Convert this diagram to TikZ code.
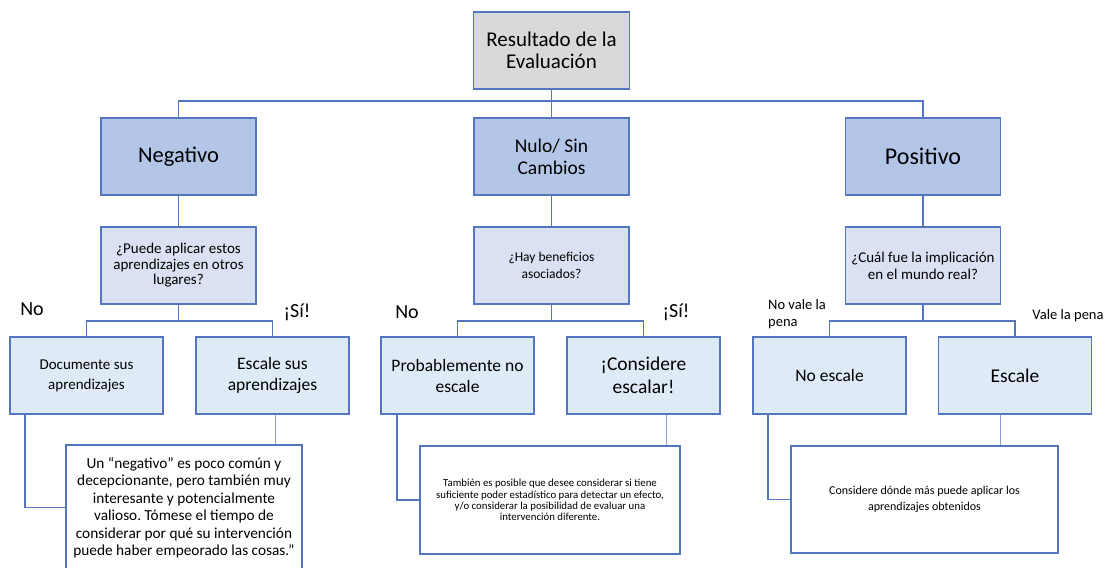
\documentclass[tikz,border=0pt]{standalone}
\usepackage{fontspec}
\setmainfont{Carlito}
\frenchspacing
\definecolor{framblue}{RGB}{84,118,193}
\definecolor{linkblue}{RGB}{135,160,212}
\definecolor{rootgray}{RGB}{217,217,217}
\definecolor{outcomeblue}{RGB}{180,198,231}
\definecolor{askblue}{RGB}{218,225,242}
\definecolor{actblue}{RGB}{222,235,247}

\newcommand{\fs}[2]{\fontsize{#1}{#2}\selectfont}

\begin{document}
\begin{tikzpicture}[x=1pt,y=-1pt,
    box/.style={draw=framblue, line width=1.3pt, align=center, inner sep=2pt, minimum height=77pt},
    rootbox/.style={box, fill=rootgray, minimum width=156pt},
    outbox/.style={box, fill=outcomeblue, minimum width=155pt},
    askbox/.style={box, fill=askblue, minimum width=155pt},
    actbox/.style={box, fill=actblue, minimum width=153pt},
    notebox/.style={draw=framblue, line width=1.3pt, fill=white, align=center},
    link/.style={draw=framblue, line width=1.3pt},
    thinlink/.style={draw=linkblue, line width=0.8pt},
    answer/.style={inner sep=0pt, font=\fs{20}{22}}]
    \useasboundingbox (0,0) rectangle (1112,568);
    \clip (0,0) rectangle (1112,568);
    \fill[white] (0,0) rectangle (1112,568);

    % top of the tree
    \node[rootbox, font=\fs{21}{22}] (res) at (551.5,50.5) {Resultado de la\\Evaluación};
    \node[outbox, font=\fs{22.5}{24}] (neg) at (178.5,156.5) {Negativo};
    \node[outbox, font=\fs{19.5}{22}] (nul) at (551.5,156.5) {Nulo/ Sin\\Cambios};
    \node[outbox, font=\fs{24}{26}] (pos) at (923,156.5) {Positivo};

    % questions
    \node[askbox, font=\fs{15}{15.5}] (qneg) at (178.5,265.5) {¿Puede aplicar estos\\aprendizajes en otros\\lugares?};
    \node[askbox, font=\fs{13.5}{17.5}] (qnul) at (551.5,265.5) {¿Hay beneficios\\asociados?};
    \node[askbox, font=\fs{15}{17}] (qpos) at (923,265.5) {¿Cuál fue la implicación\\en el mundo real?};

    % actions
    \node[actbox, font=\fs{15}{20}] (doc) at (86.5,375.5) {Documente sus\\aprendizajes};
    \node[actbox, font=\fs{17.5}{21}] (esc) at (272.5,375.5) {Escale sus\\aprendizajes};
    \node[actbox, font=\fs{17.5}{21}] (prob) at (457.5,375.5) {Probablemente no\\escale};
    \node[actbox, font=\fs{19.5}{22.5}] (cons) at (643.5,375.5) {¡Considere\\escalar!};
    \node[actbox, font=\fs{17.5}{21}] (noesc) at (829.5,375.5) {No escale};
    \node[actbox, font=\fs{19.5}{22}] (escale) at (1015,375.5) {Escale};

    % notes
    \node[notebox, minimum width=236pt, minimum height=125pt, font=\fs{15.3}{17.5}] (nneg) at (184,507.5)
        {Un “negativo” es poco común y\\decepcionante, pero también muy\\interesante y potencialmente\\valioso. Tómese el tiempo de\\considerar por qué su intervención\\puede haber empeorado las cosas.”};
    \node[notebox, minimum width=260pt, minimum height=108pt, font=\fs{10.8}{11.2}] (nnul) at (550,500)
        {También es posible que desee considerar si tiene\\suficiente poder estadístico para detectar un efecto,\\y/o considerar la posibilidad de evaluar una\\intervención diferente.};
    \node[notebox, minimum width=267pt, minimum height=107pt, font=\fs{12}{15.5}] (npos) at (924.5,499.5)
        {Considere dónde más puede aplicar los\\aprendizajes obtenidos};

    % answers
    \node[answer] (lnoneg) at (32,309) {No};
    \node[answer] (lsineg) at (297,312) {¡Sí!};
    \node[answer] (lnonul) at (407,312) {No};
    \node[answer] (lsinul) at (676,312) {¡Sí!};
    \node[answer, align=left, font=\fs{14.5}{17}] (lnopos) at (797,314) {No vale la\\pena};
    \node[answer, font=\fs{14.5}{17}] (lsipos) at (1068,316) {Vale la pena};

    % links
    \coordinate (hub) at (551.5,101);
    \draw[link] (res) -- (hub);
    \draw[link] (neg.north) |- (hub) -| (pos.north);
    \draw[link] (hub) -- (nul.north);
    \draw[link] (neg) -- (qneg);
    \draw[link] (nul) -- (qnul);
    \draw[link] (pos) -- (qpos);

    \coordinate (negfork) at (178.5,321);
    \coordinate (nulfork) at (551.5,321);
    \coordinate (posfork) at (923,321);
    \draw[link] (qneg) -- (negfork);
    \draw[link] (doc.north) |- (negfork) -| (esc.north);
    \draw[link] (qnul) -- (nulfork);
    \draw[link] (prob.north) |- (nulfork) -| (cons.north);
    \draw[link] (qpos) -- (posfork);
    \draw[link] (noesc.north) |- (posfork) -| (escale.north);

    \draw[link] ([xshift=-61.5pt]doc.south) |- (nneg.west);
    \draw[thinlink] ([xshift=2.5pt]esc.south) -- ([xshift=2.5pt]esc.south |- nneg.north);
    \draw[link] ([xshift=-60.5pt]prob.south) |- (nnul.west);
    \draw[thinlink] ([xshift=22.5pt]cons.south) -- ([xshift=22.5pt]cons.south |- nnul.north);
    \draw[link] ([xshift=-61.5pt]noesc.south) |- (npos.west);
    \draw[thinlink] ([xshift=-15pt]escale.south) -- ([xshift=-15pt]escale.south |- npos.north);
\end{tikzpicture}
\end{document}
